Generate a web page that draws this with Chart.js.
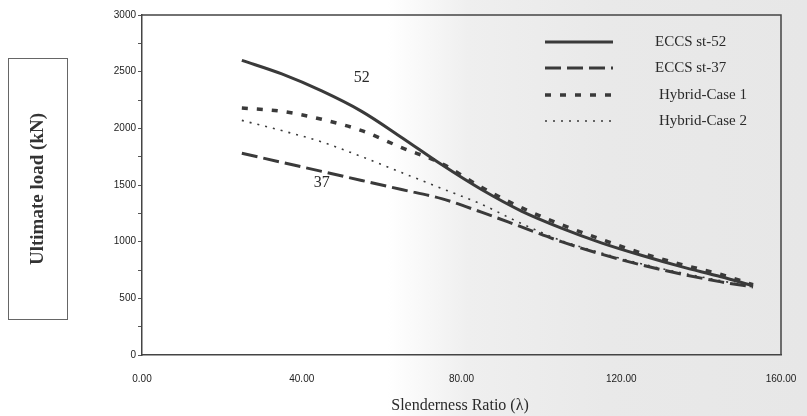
<!DOCTYPE html>
<html>
<head>
<meta charset="utf-8">
<script src="https://cdn.jsdelivr.net/npm/chart.js@4"></script>
<style>
  html, body { margin: 0; padding: 0; }
  body {
    width: 807px; height: 416px; overflow: hidden;
    background: linear-gradient(to right, #ffffff 0%, #ffffff 48%, #efefef 58%, #e9e9e9 75%, #e7e7e7 100%);
  }
  #wrap { position: relative; width: 807px; height: 416px; }
</style>
</head>
<body>
<div id="wrap"><canvas id="chart" width="807" height="416"></canvas></div>
<script>
// slenderness ratio (lambda) samples
const lambda = [25, 35, 45, 55, 65, 75, 85, 95, 105, 115, 125, 135, 145, 153];
const eccs52 = [2600, 2480, 2330, 2150, 1920, 1680, 1460, 1270, 1120, 990, 880, 780, 690, 610];
const eccs37 = [1780, 1700, 1620, 1540, 1460, 1380, 1260, 1130, 1000, 890, 795, 715, 645, 600];
const hybrid1 = [2180, 2150, 2080, 1980, 1830, 1690, 1480, 1300, 1150, 1020, 900, 800, 710, 620];
const hybrid2 = [2070, 1980, 1880, 1750, 1610, 1470, 1330, 1160, 1010, 900, 805, 725, 655, 600];

const seriesNames = ["ECCS st-52", "ECCS st-37", "Hybrid-Case 1", "Hybrid-Case 2"];
const xTicks = [0, 40, 80, 120, 160];
const yTicks = [0, 500, 1000, 1500, 2000, 2500, 3000];

// curve tags drawn next to the curves
const curveTags = [
  { text: "52", x: 55, y: 2450 },
  { text: "37", x: 45, y: 1520 },
];

const toPoints = (ys) => lambda.map((x, i) => ({ x, y: ys[i] }));
const ink = "#3a3a3a";

const styles = [
  { borderWidth: 3, borderDash: [] },
  { borderWidth: 3, borderDash: [16, 6] },
  { borderWidth: 3.5, borderDash: [6, 9] },
  { borderWidth: 1.6, borderDash: [2, 6] },
];

const decorPlugin = {
  id: "decor",
  afterDraw(chart) {
    const { ctx, chartArea: a, scales } = chart;
    ctx.save();

    // frame around plot
    ctx.strokeStyle = "#444";
    ctx.lineWidth = 1.5;
    ctx.setLineDash([]);
    ctx.beginPath();
    ctx.moveTo(a.left, a.top);
    ctx.lineTo(a.right, a.top);
    ctx.lineTo(a.right, a.bottom);
    ctx.stroke();

    // legend
    const lx0 = 545, lx1 = 613, tx = 655;
    const rows = [42, 68, 95, 121];
    ctx.font = "15px 'Liberation Serif', 'Times New Roman', serif";
    ctx.textBaseline = "middle";
    ctx.textAlign = "left";
    chart.data.datasets.forEach((ds, i) => {
      const y = rows[i];
      ctx.strokeStyle = ink;
      ctx.lineWidth = ds.borderWidth;
      ctx.setLineDash(ds.borderDash || []);
      ctx.beginPath();
      ctx.moveTo(lx0, y);
      ctx.lineTo(lx1, y);
      ctx.stroke();
      ctx.setLineDash([]);
      ctx.fillStyle = "#2a2a2a";
      ctx.fillText(seriesNames[i], i < 2 ? tx : tx + 4, y);
    });

    // curve tags
    ctx.font = "16px 'Liberation Serif', 'Times New Roman', serif";
    ctx.textAlign = "center";
    curveTags.forEach((t) => {
      ctx.fillText(t.text, scales.x.getPixelForValue(t.x), scales.y.getPixelForValue(t.y));
    });

    // x axis title
    ctx.font = "16px 'Liberation Serif', 'Times New Roman', serif";
    ctx.fillText("Slenderness Ratio (\u03bb)", 460, 406);

    // y axis title in a box
    ctx.strokeStyle = "#666";
    ctx.lineWidth = 1;
    ctx.strokeRect(8.5, 58.5, 59, 261);
    ctx.translate(38, 189);
    ctx.rotate(-Math.PI / 2);
    ctx.font = "bold 19px 'Liberation Serif', 'Times New Roman', serif";
    ctx.fillStyle = "#333";
    ctx.fillText("Ultimate load (kN)", 0, 0);

    ctx.restore();
  },
};

new Chart(document.getElementById("chart"), {
  type: "line",
  data: {
    datasets: seriesNames.map((name, i) => ({
      label: name,
      data: toPoints([eccs52, eccs37, hybrid1, hybrid2][i]),
      borderColor: ink,
      borderWidth: styles[i].borderWidth,
      borderDash: styles[i].borderDash,
      pointRadius: 0,
      fill: false,
      cubicInterpolationMode: "monotone",
    })),
  },
  options: {
    responsive: false,
    animation: false,
    layout: { padding: { left: 0, top: 15, right: 26, bottom: 0 } },
    plugins: { legend: { display: false }, tooltip: { enabled: false } },
    scales: {
      x: {
        type: "linear",
        min: 0,
        max: 160,
        afterBuildTicks: (s) => { s.ticks = xTicks.map((v) => ({ value: v })); },
        afterFit: (s) => { s.height = 61; },
        border: { color: "#444", width: 1.5 },
        grid: { display: false },
        ticks: {
          color: "#222",
          font: { family: "'Liberation Sans', Arial, sans-serif", size: 10 },
          padding: 10,
          callback: (v) => Number(v).toFixed(2),
        },
      },
      y: {
        min: 0,
        max: 3000,
        ticks: {
          stepSize: 250,
          color: "#222",
          font: { family: "'Liberation Sans', Arial, sans-serif", size: 10 },
          padding: 2,
          callback: (v) => (yTicks.includes(v) ? String(v) : ""),
        },
        afterFit: (s) => { s.width = 142; },
        border: { color: "#444", width: 1.5 },
        grid: { drawOnChartArea: false, tickLength: 4, color: "#555" },
      },
    },
  },
  plugins: [decorPlugin],
});
</script>
</body>
</html>
